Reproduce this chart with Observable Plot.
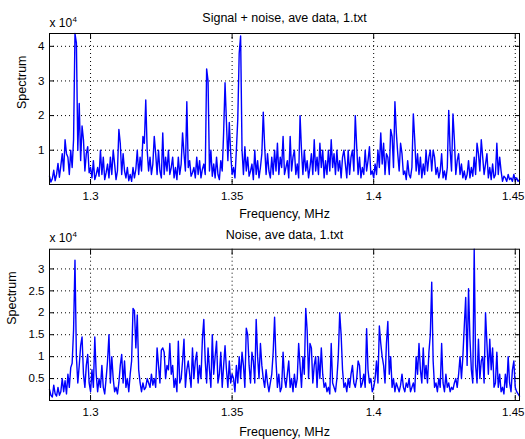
<!DOCTYPE html>
<html>
<head>
<meta charset="utf-8">
<script src="https://cdn.jsdelivr.net/npm/d3@7"></script>
<script src="https://cdn.jsdelivr.net/npm/@observablehq/plot@0.6"></script>
<style>
  body { margin: 0; background: #fff; }
  #fig { position: relative; width: 525px; height: 439px; background: #fff;
         font-family: "Liberation Sans", Arial, Helvetica, sans-serif; }
  #fig svg { position: absolute; left: 0; overflow: visible; }
</style>
</head>
<body>
<div id="fig"></div>
<script>
// Frequency bins of the averaged spectrum (MHz)
const freqStart = 1.2855;
const freqStep = 0.0005;
const freqTicks = [1.3, 1.35, 1.4, 1.45];

// Spectrum values in units of 10^4
const signalTicks = [1, 2, 3, 4];
const noiseTicks = [0.5, 1, 1.5, 2, 2.5, 3];

const signalSpectrum = [
  0.25, 0.08, 0.18, 0.42, 0.12, 0.3, 0.62, 0.22, 0.55, 0.9,
  0.4, 1.3, 0.9, 0.8, 0.3, 1.0, 0.5, 1.3, 4.37, 4.1,
  1.0, 2.35, 0.7, 1.7, 1.3, 0.4, 0.9, 1.1, 0.35, 0.5,
  0.2, 0.7, 0.15, 0.3, 0.5, 0.25, 1.0, 0.3, 0.8, 0.15,
  0.35, 0.6, 0.2, 0.8, 0.3, 1.0, 0.6, 0.15, 0.4, 1.6,
  1.2, 0.3, 0.9, 0.4, 0.2, 0.5, 0.12, 0.3, 0.1, 0.5,
  0.2, 0.45, 1.0, 0.3, 0.8, 0.4, 1.4, 1.2, 2.45, 1.0,
  0.4, 0.8, 0.3, 0.6, 1.4, 0.9, 0.3, 1.0, 0.4, 0.2,
  1.5, 0.3, 0.8, 0.4, 1.0, 0.3, 0.5, 0.8, 0.2, 0.5,
  0.15, 0.8, 0.3, 0.6, 1.5, 0.9, 0.4, 2.4, 0.5, 0.7,
  0.25, 0.35, 0.5, 0.2, 0.8, 0.3, 0.7, 0.2, 0.45, 0.6,
  0.3, 3.35, 3.0, 0.4, 1.0, 0.25, 0.6, 0.2, 0.8, 0.3,
  0.15, 0.7, 0.4, 1.5, 2.95, 1.8, 0.7, 1.8, 0.9, 0.3,
  0.5, 0.2, 1.0, 1.9, 3.8, 4.3, 1.0, 0.3, 1.1, 0.4,
  0.8, 0.25, 0.4, 0.6, 0.15, 1.0, 0.3, 0.7, 0.2, 0.5,
  0.9, 2.1, 1.1, 0.3, 0.9, 0.4, 0.2, 0.8, 0.3, 1.0,
  0.4, 1.2, 0.3, 0.8, 0.5, 1.4, 0.3, 0.5, 0.7, 0.2,
  1.4, 0.4, 0.8, 1.0, 0.3, 0.6, 0.2, 2.0, 1.0, 0.3,
  1.0, 0.4, 0.7, 0.2, 0.5, 0.9, 0.3, 1.3, 0.4, 0.8,
  0.3, 1.2, 0.5, 1.0, 0.2, 0.7, 0.3, 1.0, 0.4, 1.3,
  0.5, 0.9, 0.3, 1.0, 0.4, 0.7, 0.2, 0.8, 1.0, 0.6,
  0.2, 1.0, 0.3, 0.8, 1.0, 0.4, 2.0, 1.1, 0.3, 0.8,
  0.2, 0.5, 0.3, 1.0, 0.4, 0.7, 1.1, 0.3, 0.4, 0.2,
  0.6, 0.3, 1.0, 0.5, 1.5, 0.6, 1.2, 0.3, 0.9, 0.8,
  0.3, 1.6, 1.4, 0.5, 2.4, 1.5, 0.9, 0.4, 1.2, 0.9,
  0.3, 0.4, 0.15, 0.7, 0.3, 0.2, 0.5, 2.05, 1.3, 0.4,
  0.9, 0.3, 0.8, 0.2, 0.6, 0.3, 1.0, 0.4, 0.8, 1.0,
  0.4, 1.0, 0.8, 0.3, 0.5, 0.2, 0.4, 0.9, 0.2, 0.4,
  0.15, 0.5, 2.15, 1.0, 0.4, 2.05, 1.3, 0.3, 0.7, 0.9,
  0.3, 0.6, 0.2, 0.4, 0.15, 0.3, 0.7, 0.2, 0.5, 0.25,
  0.8, 0.3, 1.2, 0.9, 0.4, 1.3, 0.8, 0.3, 0.6, 0.9,
  0.2, 0.5, 0.15, 0.6, 0.2, 0.3, 1.2, 0.3, 0.8, 0.4,
  0.1, 0.25, 0.2, 0.1, 0.3, 0.15, 0.2, 0.1, 0.3, 0.12,
  0.2, 0.1, 0.15
];

const noiseSpectrum = [
  0.25, 0.12, 0.08, 0.35, 0.15, 0.1, 0.3, 0.12, 0.2, 0.5,
  0.2, 0.45, 0.15, 0.6, 0.3, 0.75, 0.85, 1.6, 3.2, 1.0,
  0.4, 0.8, 1.25, 1.45, 0.6, 0.3, 0.8, 1.05, 0.4, 0.2,
  0.7, 0.3, 1.45, 0.6, 0.2, 0.5, 0.3, 0.8, 0.3, 0.15,
  0.5, 0.9, 1.5, 0.4, 1.0, 0.5, 0.2, 0.3, 0.15, 0.4,
  0.8, 1.05, 0.4, 0.9, 0.3, 0.5, 0.2, 0.6, 0.9, 2.1,
  2.05, 1.2, 1.95, 0.7, 0.4, 0.2, 0.4, 0.25, 0.3, 0.5,
  0.4, 0.3, 0.6, 0.35, 0.5, 0.3, 1.2, 0.8, 0.4, 1.15,
  1.2, 1.1, 0.5, 0.8, 0.7, 1.3, 0.6, 0.8, 0.3, 0.5,
  0.2, 1.35, 0.4, 0.5, 0.9, 1.4, 0.3, 0.7, 0.9, 0.6,
  0.3, 1.2, 0.5, 0.9, 1.1, 0.4, 0.8, 0.5, 1.4, 1.85,
  0.9, 0.4, 1.2, 0.7, 0.3, 1.5, 0.6, 1.0, 1.35, 0.4,
  0.6, 1.1, 0.3, 0.8, 1.25, 0.7, 0.3, 0.9, 0.4, 0.6,
  0.5, 0.2, 0.8, 0.4, 1.0, 0.5, 1.1, 0.8, 0.3, 1.65,
  1.5, 0.8, 0.4, 1.1, 0.9, 0.4, 1.85, 1.0, 0.5, 1.3,
  0.8, 0.5, 0.3, 0.7, 0.4, 0.2, 0.4, 0.6, 1.1, 1.9,
  0.9, 0.3, 0.6, 0.2, 0.3, 1.1, 0.5, 0.3, 0.6, 0.9,
  0.3, 0.5, 0.2, 0.6, 0.3, 0.5, 1.3, 0.8, 0.3, 1.0,
  0.6, 2.1, 1.6, 0.5, 1.3, 1.2, 0.4, 0.8, 1.0, 0.3,
  1.0, 0.5, 1.2, 0.6, 0.3, 0.4, 0.2, 0.3, 0.15, 1.3,
  0.4, 0.3, 0.2, 0.5, 1.0, 2.0, 1.5, 0.7, 0.3, 0.4,
  0.2, 0.5, 0.3, 0.6, 0.8, 0.4, 0.3, 0.5, 0.9, 0.8,
  0.3, 0.4, 0.6, 0.3, 1.64, 0.7, 0.4, 0.5, 0.2, 0.3,
  0.5, 0.9, 0.4, 1.7, 1.3, 1.0, 0.8, 0.4, 1.3, 1.8,
  0.6, 1.0, 0.3, 0.5, 0.2, 0.4, 0.3, 0.2, 0.35, 0.6,
  0.3, 0.2, 0.4, 0.3, 0.5, 0.2, 0.3, 0.4, 0.2, 1.0,
  0.6, 1.3, 0.7, 0.4, 1.2, 0.5, 0.8, 0.4, 1.1, 1.5,
  2.7, 0.9, 0.3, 0.4, 0.2, 0.5, 0.3, 1.3, 0.4, 0.2,
  0.6, 0.3, 0.4, 0.2, 0.3, 0.25, 0.4, 0.5, 0.3, 0.6,
  1.0, 0.5, 1.0, 1.7, 2.35, 0.8, 2.55, 1.4, 0.7, 0.4,
  3.45, 0.8, 0.4, 1.4, 0.5, 0.9, 1.0, 0.4, 2.0, 1.3,
  0.6, 1.4, 0.7, 1.2, 0.3, 0.4, 1.1, 0.3, 0.6, 0.2,
  0.3, 0.15, 0.6, 0.3, 1.0, 0.4, 0.2, 0.7, 0.9, 0.3,
  0.2, 0.15, 0.1
];

const FONT = '"Liberation Sans", Arial, Helvetica, sans-serif';

function toRows(values) {
  return values.map((v, i) => ({ f: freqStart + i * freqStep, s: v }));
}

function panel(cfg) {
  const rows = toRows(cfg.values);
  const fEnd = rows[rows.length - 1].f;
  const dotted = { stroke: "#000", strokeOpacity: 1, strokeWidth: 1, strokeDasharray: "1,3" };
  const innerTicks = freqTicks.slice(0, -1);
  const lastTick = freqTicks.slice(-1);
  const xLabel = { anchor: "bottom", tickSize: -5, tickPadding: cfg.xTickPad, tickFormat: d => String(d), label: null, fontSize: 11.5 };
  const svg = Plot.plot({
    width: 525,
    height: cfg.height,
    marginLeft: 49,
    marginRight: 6,
    marginTop: cfg.marginTop,
    marginBottom: cfg.marginBottom,
    style: { fontFamily: FONT, fontSize: "12px", background: "transparent", color: "#000" },
    x: { domain: [freqStart, fEnd] },
    y: { domain: cfg.yDomain },
    marks: [
      Plot.gridX(freqTicks, dotted),
      Plot.gridY(cfg.yTicks, dotted),
      Plot.lineY(rows, { x: "f", y: "s", stroke: "#0000ff", strokeWidth: 1.4 }),
      Plot.axisX(innerTicks, xLabel),
      // last label nudged left so it stays inside the figure edge
      Plot.axisX(lastTick, { ...xLabel, tickSize: 0, tickPadding: cfg.xTickPad - 5, dx: -2 }),
      Plot.axisX(lastTick, { anchor: "bottom", tickSize: -5, tickFormat: () => "", label: null }),
      Plot.axisX(freqTicks, { anchor: "top", tickSize: -5, tickFormat: () => "", label: null }),
      Plot.axisY(cfg.yTicks, { anchor: "left", tickSize: -5, tickPadding: 10, tickFormat: d => String(d), label: null, fontSize: 11.5 }),
      Plot.axisY(cfg.yTicks, { anchor: "right", tickSize: -5, tickFormat: () => "", label: null }),
      Plot.frame({ stroke: "#000" }),
      Plot.text([cfg.title], { text: d => d, frameAnchor: "top", lineAnchor: "bottom", dy: cfg.titleDy, fontSize: 12.5 }),
      Plot.text(["x 10"], { text: d => d, frameAnchor: "top-left", textAnchor: "start", lineAnchor: "bottom", dy: cfg.expDy, fontSize: 12 }),
      Plot.text(["4"], { text: d => d, frameAnchor: "top-left", textAnchor: "start", lineAnchor: "bottom", dx: 23, dy: cfg.supDy, fontSize: 8 }),
      Plot.text(["Frequency, MHz"], { text: d => d, frameAnchor: "bottom", lineAnchor: "bottom", dy: cfg.xlabelDy, fontSize: 12.5 }),
      Plot.text(["Spectrum"], { text: d => d, frameAnchor: "left", rotate: -90, lineAnchor: "bottom", dx: cfg.ylabelDx, fontSize: 12.5 })
    ]
  });
  svg.style.top = cfg.top + "px";
  return svg;
}

const fig = document.getElementById("fig");
fig.appendChild(panel({
  values: signalSpectrum, yDomain: [0.01, 4.37], yTicks: signalTicks,
  title: "Signal + noise, ave data, 1.txt",
  top: 0, height: 220, marginTop: 33, marginBottom: 36,
  xTickPad: 12.3, titleDy: -11.3, expDy: -7, supDy: -11.8, xlabelDy: 33, ylabelDx: -24
}));
fig.appendChild(panel({
  values: noiseSpectrum, yDomain: [0, 3.45], yTicks: noiseTicks,
  title: "Noise, ave data, 1.txt",
  top: 215, height: 224, marginTop: 33.7, marginBottom: 39,
  xTickPad: 12.8, titleDy: -10.4, expDy: -7.2, supDy: -12.4, xlabelDy: 35, ylabelDx: -33.5
}));
</script>
</body>
</html>
